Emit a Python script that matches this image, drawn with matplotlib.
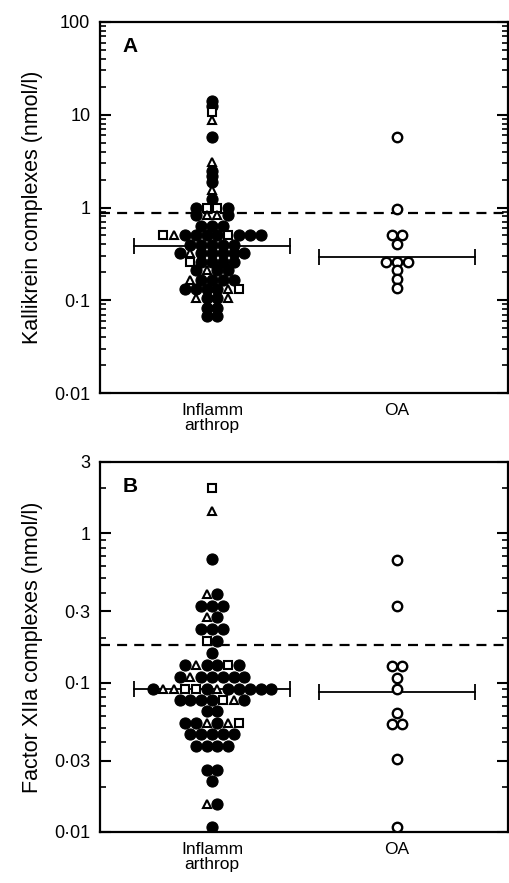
import matplotlib
matplotlib.use('Agg')
import matplotlib.pyplot as plt
from matplotlib.ticker import FixedLocator, NullFormatter

plt.rcParams['font.family'] = ['Liberation Sans', 'DejaVu Sans']

# marker codes: f = filled circle, t = open triangle, s = open square, o = open circle
# panel A - kallikrein complexes, one entry per row of the dot plot
a_inf_vals = [14, 12.5, 10.8, 8.8, 5.7, 3.1, 2.5, 2.2, 1.9, 1.55, 1.25, 0.98, 0.83,
              0.63, 0.50, 0.39, 0.32, 0.26, 0.21, 0.165, 0.132, 0.107, 0.083, 0.068]
a_inf_marks = ['f', 'f', 's', 't', 'f', 't', 'f', 'f', 'f', 't', 'f', 'fssf', 'fttf',
               'fff', 'stffffsfff', 'fffff', 'ftfffff', 'sffff', 'ftff', 'tffff',
               'ffffts', 'tfft', 'ff', 'ff']
a_oa_vals = [5.8, 0.96, 0.50, 0.40, 0.26, 0.21, 0.17, 0.135]
a_oa_marks = ['o', 'o', 'oo', 'o', 'ooo', 'o', 'o', 'o']
a_medians = [0.38, 0.29]
a_cutoff = 0.87

# panel B - factor XIIa complexes
b_inf_vals = [2.0, 1.4, 0.67, 0.39, 0.325, 0.275, 0.23, 0.19, 0.158, 0.132, 0.109,
              0.091, 0.076, 0.065, 0.054, 0.045, 0.0375, 0.026, 0.022, 0.0153, 0.0108]
b_inf_marks = ['s', 't', 'f', 'tf', 'fff', 'tf', 'fff', 'sf', 'f', 'ftffsf', 'ftfffff',
               'fttssftfffff', 'ffffstf', 'ff', 'fftfts', 'fffff', 'ffff', 'ff', 'f',
               'tf', 'f']
b_oa_vals = [0.66, 0.325, 0.129, 0.108, 0.091, 0.063, 0.053, 0.031, 0.0108]
b_oa_marks = ['o', 'o', 'oo', 'o', 'o', 'o', 'oo', 'o', 'o']
b_medians = [0.09, 0.086]
b_cutoff = 0.18

groups = ['Inflamm\narthrop', 'OA']

styles = {
    'f': dict(marker='o', ms=8, mfc='black', mec='black', mew=0.8),
    'o': dict(marker='o', ms=6.8, mfc='white', mec='black', mew=1.7),
    's': dict(marker='s', ms=6.2, mfc='white', mec='black', mew=1.5),
    't': dict(marker='^', ms=6.2, mfc='white', mec='black', mew=1.5),
}
step = 0.0584  # horizontal spacing of neighbouring dots


def dot_rows(ax, xc, vals, marks):
    for v, row in zip(vals, marks):
        n = len(row)
        for i, m in enumerate(row):
            x = xc + (i - (n - 1) / 2) * step
            ax.plot(x, v, ls='none', zorder=3, **styles[m])


def panel(ax, inf_vals, inf_marks, oa_vals, oa_marks, medians, cutoff,
          ylim, major, labels, letter, ylabel):
    ax.set_yscale('log')
    ax.set_ylim(*ylim)
    ax.set_xlim(0.3946, 2.6)
    dot_rows(ax, 1, inf_vals, inf_marks)
    dot_rows(ax, 2, oa_vals, oa_marks)
    for xc, med in zip([1, 2], medians):
        ax.plot([xc - 0.42, xc + 0.42], [med, med], color='black', lw=1.3,
                marker='|', ms=11, mew=1.3, zorder=2)
    ax.axhline(cutoff, color='black', lw=1.6, ls=(0, (4.5, 3.2)), zorder=1)
    ax.yaxis.set_major_locator(FixedLocator(major))
    ax.set_yticklabels(labels)
    ax.yaxis.set_minor_formatter(NullFormatter())
    ax.tick_params(axis='y', which='major', direction='in', length=8, width=1.5,
                   labelsize=13, right=True, pad=7)
    ax.tick_params(axis='y', which='minor', direction='in', length=4.5, width=1.2,
                   right=True)
    ax.set_xticks([1, 2])
    ax.set_xticklabels(groups, fontsize=12.5, linespacing=1.05)
    ax.tick_params(axis='x', length=0, pad=7)
    for sp in ax.spines.values():
        sp.set_linewidth(1.6)
    ax.set_ylabel(ylabel, fontsize=15.5, labelpad=8)
    ax.text(0.073, 0.935, letter, transform=ax.transAxes, fontsize=15,
            fontweight='bold', va='center', ha='center')


fig = plt.figure(figsize=(5.1, 8.83), dpi=100)
axA = fig.add_axes([100 / 510, 1 - 393 / 883, 408 / 510, 371 / 883])
axB = fig.add_axes([100 / 510, 1 - 832 / 883, 408 / 510, 370 / 883])

panel(axA, a_inf_vals, a_inf_marks, a_oa_vals, a_oa_marks, a_medians, a_cutoff,
      (0.01, 100), [0.01, 0.1, 1, 10, 100], ['0·01', '0·1', '1', '10', '100'],
      'A', 'Kallikrein complexes (nmol/l)')
panel(axB, b_inf_vals, b_inf_marks, b_oa_vals, b_oa_marks, b_medians, b_cutoff,
      (0.01, 3), [0.01, 0.03, 0.1, 0.3, 1, 3], ['0·01', '0·03', '0·1', '0·3', '1', '3'],
      'B', 'Factor XIIa complexes (nmol/l)')
axB.yaxis.set_minor_locator(FixedLocator(
    [0.02, 0.04, 0.05, 0.06, 0.07, 0.08, 0.09, 0.2, 0.4, 0.5, 0.6, 0.7, 0.8, 0.9, 2]))

fig.savefig('out.png', dpi=100)
